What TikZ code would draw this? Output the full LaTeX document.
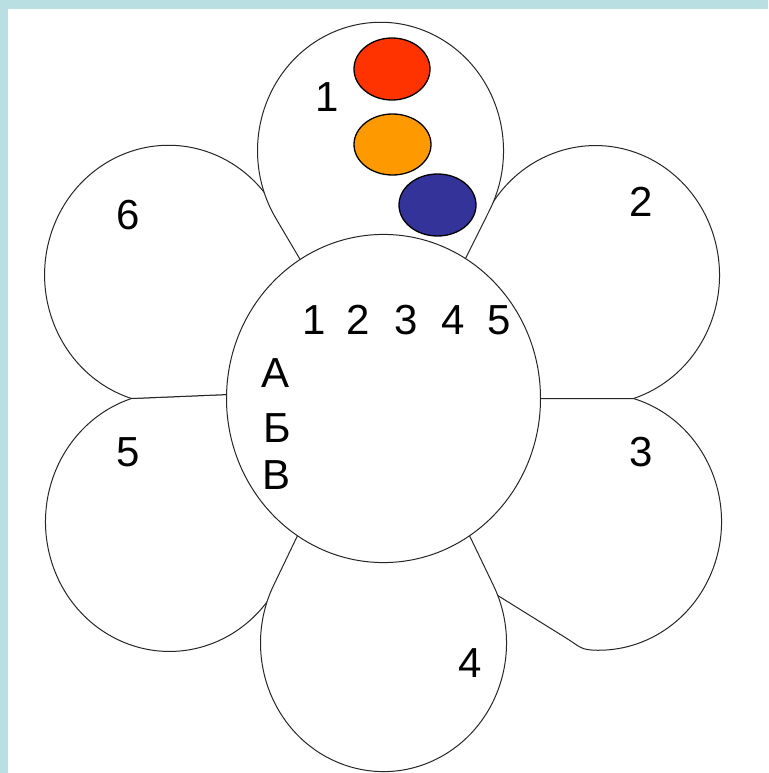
\documentclass[tikz,border=0pt]{standalone}
\usepackage{fontspec}
\setmainfont{Liberation Sans}
\definecolor{bgblue}{HTML}{BADFE3}
\definecolor{dotred}{HTML}{FF3300}
\definecolor{dotorange}{HTML}{FF9900}
\definecolor{dotblue}{HTML}{333399}
\begin{document}
\begin{tikzpicture}[x=1pt,y=-1pt,
  petal/.style={fill=white,draw=black!85,line width=1pt,line join=round},
  dot/.style={draw=black,line width=1.3pt},
  lbl/.style={inner sep=0pt,font=\fontsize{42}{50}\selectfont}]
\useasboundingbox (0,0) rectangle (768,773);
\fill[bgblue] (0,0) rectangle (768,773);
\fill[white] (7.5,9.5) rectangle (768,773);
\begin{scope}[shift={(383.5,398.5)},yscale=1.045]
  \coordinate (o) at (0,0);
  \coordinate (t1) at (6,12);
  \coordinate (t4) at (0,-40);
  \coordinate (p1) at (106.09,-180.19);
  \coordinate (p4) at (109.91,178.80);
  \coordinate (j23) at (250,0);
  \coordinate (j56) at (-252,0);
  \coordinate (q56) at (0,-10);
  \coordinate (k3) at (183,229.4);
  \coordinate (h3) at (100,180);
  % petals behind
  \draw[petal] (o) -- (j23) arc[start angle=72.15,end angle=-149.8,radius=124] -- cycle;
  \draw[petal] (o) -- (j23) arc[start angle=-73.48,end angle=90,radius=123]
     .. controls +(-18,0) and +(14,8.4) .. (k3) -- (h3) -- cycle;
  \draw[petal] (q56) -- (j56) arc[start angle=252.15,end angle=30.6,radius=124] -- cycle;
  \draw[petal] (q56) -- (j56) arc[start angle=107.41,end angle=329.26,radius=124] -- cycle;
  % front petals
  \draw[petal] (t1) -- (p1) arc[start angle=27.51,end angle=-211.65,radius=123] -- cycle;
  \draw[petal] (t4) -- (p4) arc[start angle=-26.67,end angle=206.67,radius=123] -- cycle;
  % centre
  \draw[petal] (o) circle[radius=157];
\end{scope}
% coloured dots
\filldraw[dot,fill=dotred] (392,69) ellipse[x radius=38,y radius=31];
\filldraw[dot,fill=dotorange] (392.5,144.5) ellipse[x radius=38.5,y radius=30.5];
\filldraw[dot,fill=dotblue] (437.5,205) ellipse[x radius=38.5,y radius=31];
% petal numbers
\node[lbl] (n1) at (327,97) {1};
\node[lbl] (n2) at (641,202) {2};
\node[lbl] (n3) at (641.5,452) {3};
\node[lbl] (n4) at (470,663) {4};
\node[lbl] (n5) at (128.5,452) {5};
\node[lbl] (n6) at (128,215) {6};
% centre table
\node[lbl] (r1) at (314,320) {1};
\node[lbl] (r2) at (358.5,320) {2};
\node[lbl] (r3) at (406.5,320) {3};
\node[lbl] (r4) at (453,320) {4};
\node[lbl] (r5) at (499.5,320) {5};
\node[lbl] (ra) at (276,373.5) {А};
\node[lbl] (rb) at (277,428.5) {Б};
\node[lbl] (rv) at (277,475) {В};
\end{tikzpicture}
\end{document}
